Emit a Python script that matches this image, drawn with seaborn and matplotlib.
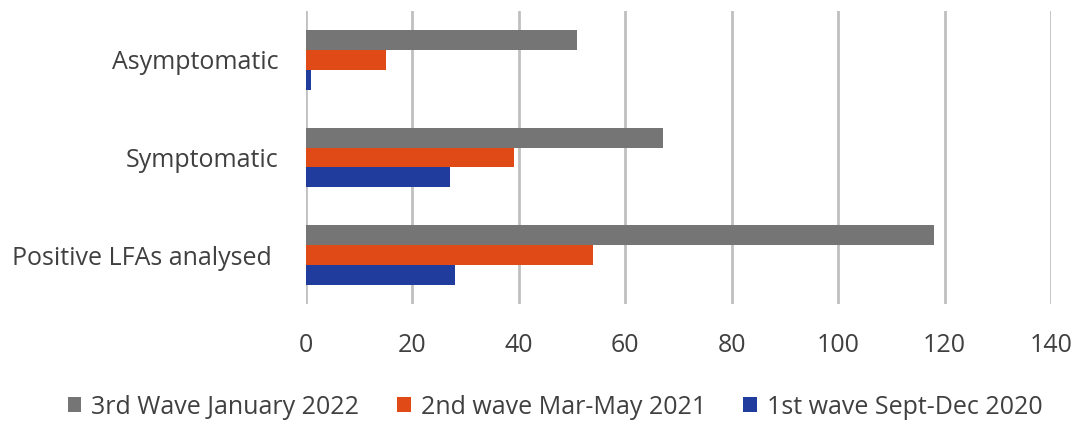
import matplotlib
matplotlib.use("Agg")
import matplotlib.pyplot as plt
import seaborn as sns
import pandas as pd
from matplotlib.patches import Patch

categories = ["Asymptomatic", "Symptomatic", "Positive LFAs analysed "]
series_names = ["3rd Wave January 2022", "2nd wave Mar-May 2021", "1st wave Sept-Dec 2020"]
wave3 = [51, 67, 118]
wave2 = [15, 39, 54]
wave1 = [1, 27, 28]
x_ticks = [0, 20, 40, 60, 80, 100, 120, 140]

colors = ["#757575", "#E04A17", "#203C9C"]

rows = []
for name, vals in zip(series_names, [wave3, wave2, wave1]):
    for cat, v in zip(categories, vals):
        rows.append({"category": cat, "series": name, "value": v})
df = pd.DataFrame(rows)

sns.set_theme(style="white")
plt.rcParams["font.family"] = ["Open Sans", "DejaVu Sans"]

fig = plt.figure(figsize=(10.78, 4.21), dpi=100)
ax = fig.add_axes([306 / 1078, 1 - 304 / 421, (1051 - 306) / 1078, (304 - 11) / 421])

sns.barplot(data=df, x="value", y="category", hue="series",
            order=categories, hue_order=series_names, palette=colors,
            orient="h", width=0.614, linewidth=0, saturation=1,
            errorbar=None, ax=ax)

ax.set_xlim(0, 140)
ax.set_xticks(x_ticks)
ax.set_xlabel("")
ax.set_ylabel("")
for s in ax.spines.values():
    s.set_visible(False)
ax.grid(axis="x", color="#C0C0C0", linewidth=2)
ax.grid(axis="y", visible=False)
ax.set_axisbelow(True)
ax.tick_params(axis="x", labelsize=18, colors="#404040", pad=21, length=0)
ax.tick_params(axis="y", labelsize=18, colors="#404040", pad=20, length=0)

if ax.get_legend() is not None:
    ax.get_legend().remove()
handles = [Patch(facecolor=c, edgecolor="none") for c in colors]
fig.legend(handles, series_names, loc="center", bbox_to_anchor=(0.515, 1 - 407 / 421),
           ncol=3, frameon=False, fontsize=18, handlelength=0.55, handleheight=0.55,
           handletextpad=0.4, columnspacing=1.5, labelcolor="#404040")

fig.savefig("out.png", dpi=100)
